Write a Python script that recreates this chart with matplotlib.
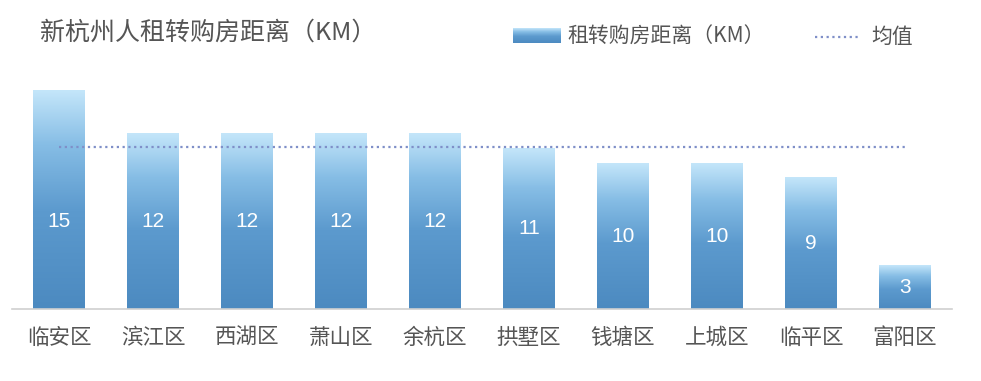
import matplotlib
matplotlib.use("Agg")
import matplotlib.pyplot as plt
import numpy as np
from matplotlib.colors import LinearSegmentedColormap

plt.rcParams['font.family'] = ['Noto Sans CJK SC', 'DejaVu Sans']

districts = ["临安区", "滨江区", "西湖区", "萧山区", "余杭区", "拱墅区", "钱塘区", "上城区", "临平区", "富阳区"]
distance = [15, 12, 12, 12, 12, 11, 10, 10, 9, 3]
mean_value = 11.1

title = "新杭州人租转购房距离（KM）"
bar_label = "租转购房距离（KM）"
mean_label = "均值"

text_color = "#555555"
cmap = LinearSegmentedColormap.from_list(
    "bar", [(0, "#4c8ac0"), (0.45, "#5c9ace"), (0.75, "#86bde5"), (1, "#c4e6fa")])
grad = np.linspace(0, 1, 256).reshape(-1, 1)

W, H = 981, 381
fig = plt.figure(figsize=(W / 100, H / 100), dpi=100)
ax = fig.add_axes([12 / W, 1 - 309 / H, 940 / W, 229 / H])

x = np.arange(len(districts))
width = 0.55
ax.bar(x, distance, width=width, color="none")
for xi, v in zip(x, distance):
    ax.imshow(grad, cmap=cmap, origin="lower", aspect="auto",
              extent=(xi - width / 2, xi + width / 2, 0, v), zorder=2)
    ax.text(xi, min(v, 12) / 2, str(v), ha="center", va="center",
            color="white", fontsize=15, family=['Liberation Sans'], zorder=3)

ax.plot([x[0], x[-1]], [mean_value, mean_value], linestyle=(0, (1, 1.6)),
        color="#7f8fc8", linewidth=1.6, zorder=4)

ax.set_xlim(-0.5, len(districts) - 0.5)
ax.set_ylim(0, 229 / 14.6)
ax.set_xticks(x)
ax.set_xticklabels(districts, fontsize=15.5, color=text_color)
ax.tick_params(axis="x", length=0, pad=13)
ax.set_yticks([])
for s in ["top", "right", "left"]:
    ax.spines[s].set_visible(False)
ax.spines["bottom"].set_color("#d0d0d0")
ax.spines["bottom"].set_linewidth(1.2)

fig.text(40 / W, 1 - 33 / H, title, fontsize=18, color=text_color, va="center", ha="left")

# legend
lax = fig.add_axes([513 / W, 1 - 43 / H, 48 / W, 15 / H])
lax.imshow(grad, cmap=cmap, origin="lower", aspect="auto")
lax.axis("off")
fig.text(567 / W, 1 - 37 / H, bar_label, fontsize=15, color=text_color, va="center", ha="left")
fig.add_artist(plt.Line2D([815 / W, 860 / W], [1 - 37 / H, 1 - 37 / H], transform=fig.transFigure,
                          linestyle=(0, (1, 1.6)), color="#7f8fc8", linewidth=1.6))
fig.text(871 / W, 1 - 37 / H, mean_label, fontsize=15, color=text_color, va="center", ha="left")

fig.savefig("out.png", dpi=100)
